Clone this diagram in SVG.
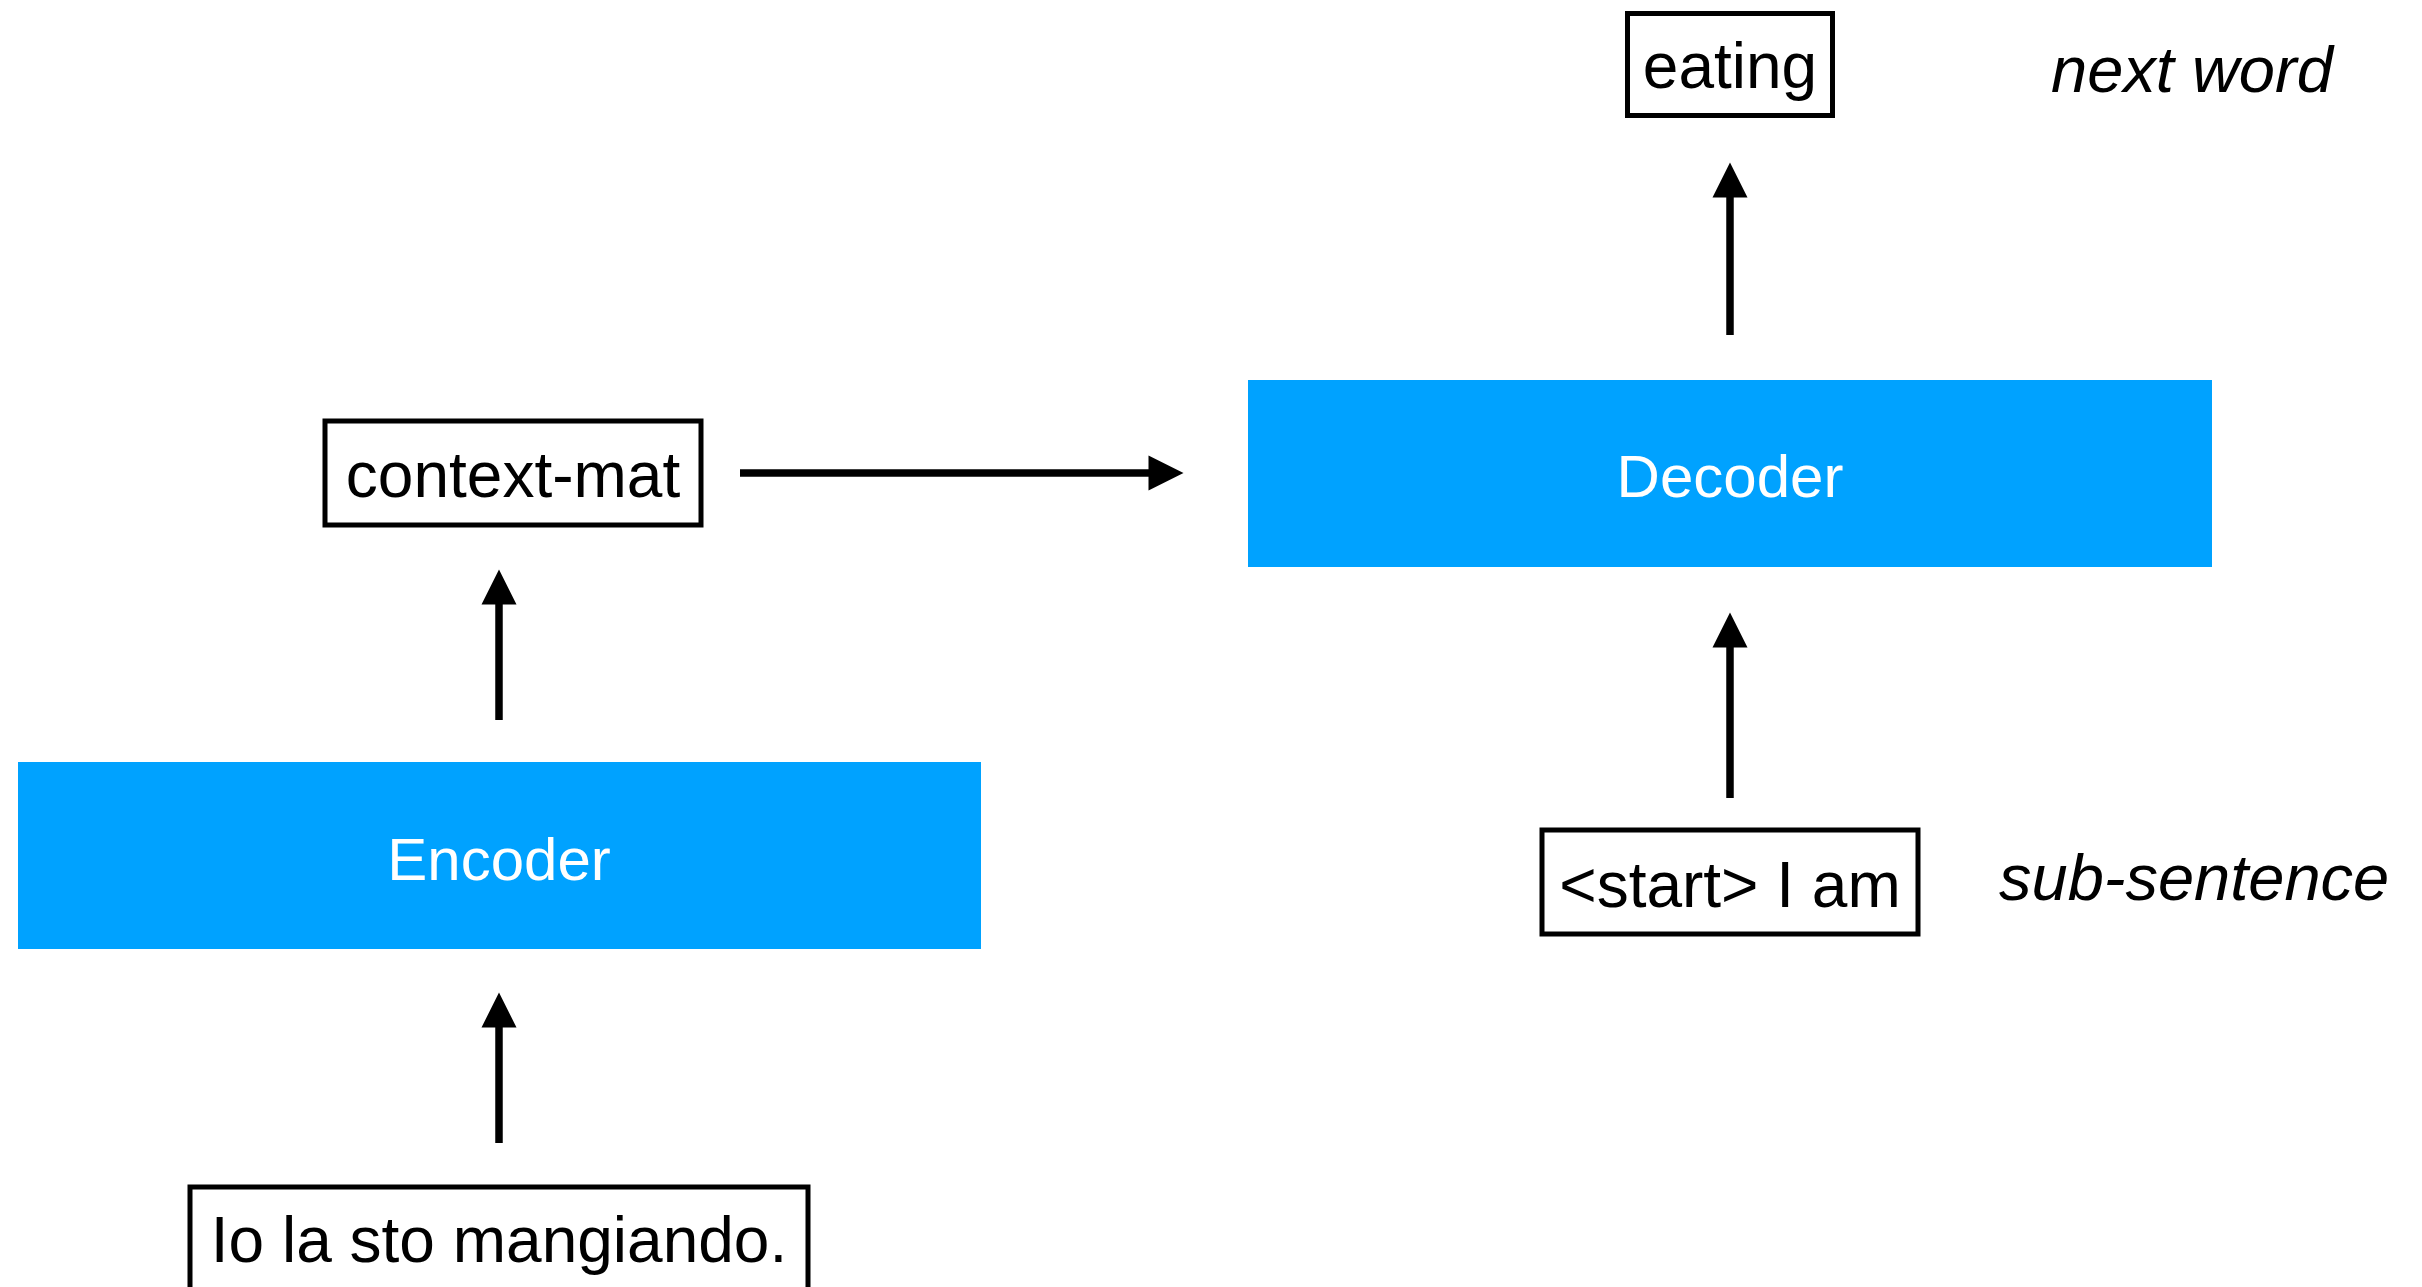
<svg xmlns="http://www.w3.org/2000/svg" width="2422" height="1287" viewBox="0 0 2422 1287">
  <style>
    .box { fill: #ffffff; stroke: #000000; stroke-width: 5; }
    .block { fill: #00A2FF; }
    .label { font-family: "Liberation Sans", Arial, Helvetica, sans-serif; font-size: 64px; fill: #000000; text-anchor: middle; }
    .blockLabel { font-family: "Liberation Sans", Arial, Helvetica, sans-serif; font-size: 60px; fill: #ffffff; text-anchor: middle; }
    .note { font-family: "Liberation Sans", Arial, Helvetica, sans-serif; font-size: 65px; font-style: italic; fill: #000000; }
    .conn { stroke: #000000; stroke-width: 7.5; fill: none; marker-end: url(#arrow); }
  </style>
  <defs>
    <!-- solid triangular arrowhead; the line stops at its base, the tip is 35px further on -->
    <marker id="arrow" markerUnits="userSpaceOnUse" markerWidth="37" markerHeight="37" refX="0.5" refY="18" orient="auto" overflow="visible">
      <path d="M0,0.5 L35,18 L0,35.5 Z" fill="#000000"/>
    </marker>
  </defs>
  <rect width="2422" height="1287" fill="#ffffff"/>

  <g id="connectors">
    <line class="conn" x1="499" y1="1143" x2="499" y2="1027"/>
    <line class="conn" x1="499" y1="720" x2="499" y2="604"/>
    <line class="conn" x1="740" y1="473" x2="1149" y2="473"/>
    <line class="conn" x1="1730" y1="798" x2="1730" y2="647"/>
    <line class="conn" x1="1730" y1="335" x2="1730" y2="197"/>
  </g>

  <g id="input-sentence">
    <rect class="box" x="190" y="1187" width="618" height="110"/>
    <text class="label" x="499" y="1262">Io la sto mangiando.</text>
  </g>

  <g id="encoder">
    <rect class="block" x="18" y="762" width="963" height="187"/>
    <text class="blockLabel" x="499" y="880">Encoder</text>
  </g>

  <g id="context-mat">
    <rect class="box" x="325" y="421" width="376" height="104"/>
    <text class="label" x="513" y="497">context-mat</text>
  </g>

  <g id="decoder">
    <rect class="block" x="1248" y="380" width="964" height="187"/>
    <text class="blockLabel" x="1730" y="497">Decoder</text>
  </g>

  <g id="sub-sentence">
    <rect class="box" x="1542" y="830" width="376" height="104"/>
    <text class="label" x="1730" y="907">&lt;start&gt; I am</text>
    <text class="note" x="1999" y="900">sub-sentence</text>
  </g>

  <g id="next-word">
    <rect class="box" x="1627.5" y="13.5" width="205" height="102"/>
    <text class="label" x="1730" y="88">eating</text>
    <text class="note" x="2051" y="92">next word</text>
  </g>
</svg>
